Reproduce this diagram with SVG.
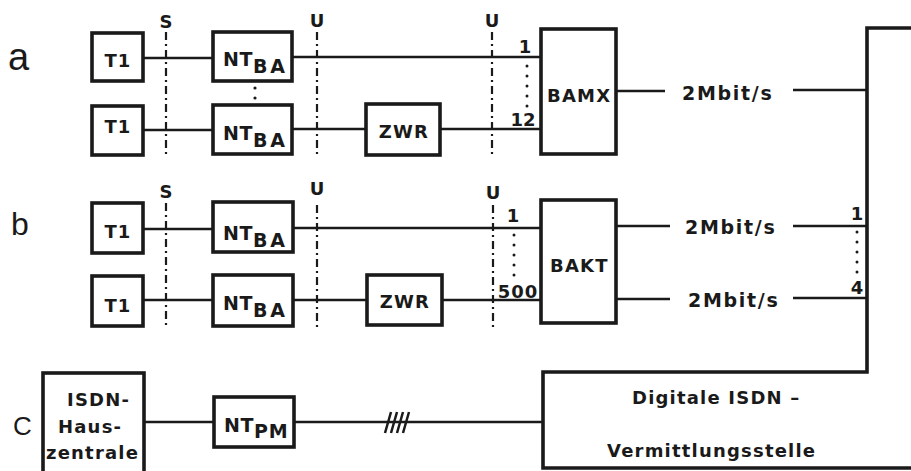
<svg xmlns="http://www.w3.org/2000/svg" width="911" height="471" viewBox="0 0 911 471">
<style>
.box{fill:#fff;stroke:#1a1a1a;stroke-width:3.6}
.ln{fill:none;stroke:#1a1a1a;stroke-width:2.5}
.dd{fill:none;stroke:#1a1a1a;stroke-width:2.2;stroke-dasharray:8 4 2 4}
.t{font-family:"DejaVu Sans",Verdana,sans-serif;font-weight:bold;font-size:18px;fill:#1a1a1a;letter-spacing:1.2px}
.r{font-family:"DejaVu Sans",Verdana,sans-serif;font-weight:bold;font-size:19px;fill:#1a1a1a;letter-spacing:1.7px}
.n{font-family:"DejaVu Sans",Verdana,sans-serif;font-weight:bold;font-size:18px;fill:#1a1a1a}
.nt{font-family:"DejaVu Sans",Verdana,sans-serif;font-weight:bold;font-size:19px;fill:#1a1a1a;letter-spacing:0.5px}
.big{font-family:"Liberation Sans",Arial,sans-serif;fill:#1a1a1a}
.dot{fill:#1a1a1a}
</style>
<rect width="911" height="471" fill="#fff"/>
<g id="rowlabels">
<text class="big" x="8" y="70" font-size="38">a</text>
<text class="big" x="11" y="235" font-size="32">b</text>
<text class="big" x="13" y="435" font-size="26">C</text>
</g>
<g id="interfaces">
<path class="dd" d="M166,32V158M317,32V158M492,32V158M166,203V328M317,205V328M493,205V328"/>
<text class="n" x="166" y="28" text-anchor="middle">S</text>
<text class="n" x="317" y="27" text-anchor="middle">U</text>
<text class="n" x="492" y="27" text-anchor="middle">U</text>
<text class="n" x="166" y="198" text-anchor="middle">S</text>
<text class="n" x="317" y="195" text-anchor="middle">U</text>
<text class="n" x="493" y="199" text-anchor="middle">U</text>
</g>
<g id="connectors">
<path class="ln" d="M143,58H213M292,57H541M143,130H213M292,129H366M440,129H541"/>
<path class="ln" d="M616,91H665M793,90H866"/>
<path class="ln" d="M143,229H213M292,228H541M143,300H213M292,300H367M442,300H541"/>
<path class="ln" d="M616,226H670M793,226H866M616,299H670M793,298H866"/>
<path class="ln" d="M144,422H214M294,422H543"/>
<path class="ln" d="M385,433L391,412M391,433L397,412M397,433L403,412M403,433L409,412"/>
</g>
<g id="dots">
<circle class="dot" cx="255" cy="88" r="1.6"/><circle class="dot" cx="255" cy="98" r="1.6"/>
<circle class="dot" cx="527" cy="66" r="1.5"/><circle class="dot" cx="527" cy="76" r="1.5"/><circle class="dot" cx="527" cy="86" r="1.5"/><circle class="dot" cx="527" cy="96" r="1.5"/><circle class="dot" cx="527" cy="106" r="1.5"/>
<circle class="dot" cx="514" cy="235" r="1.5"/><circle class="dot" cx="514" cy="245" r="1.5"/><circle class="dot" cx="514" cy="255" r="1.5"/><circle class="dot" cx="514" cy="265" r="1.5"/><circle class="dot" cx="514" cy="275" r="1.5"/>
<circle class="dot" cx="857" cy="232" r="1.5"/><circle class="dot" cx="857" cy="242" r="1.5"/><circle class="dot" cx="857" cy="252" r="1.5"/><circle class="dot" cx="857" cy="262" r="1.5"/><circle class="dot" cx="857" cy="272" r="1.5"/>
</g>
<g id="numbers">
<text class="n" x="525" y="53" text-anchor="middle">1</text>
<text class="n" x="523" y="126" text-anchor="middle">12</text>
<text class="n" x="513" y="222" text-anchor="middle">1</text>
<text class="n" x="518" y="298" text-anchor="middle" letter-spacing="1">500</text>
<text class="n" x="857" y="220" text-anchor="middle">1</text>
<text class="n" x="857" y="294" text-anchor="middle">4</text>
</g>
<g id="a-T1-1"><rect class="box" x="92" y="33" width="51" height="48"/><text class="t" x="118" y="67" text-anchor="middle" letter-spacing="3">T1</text></g>
<g id="a-T1-2"><rect class="box" x="92" y="106" width="51" height="49"/><text class="t" x="118" y="133" text-anchor="middle" letter-spacing="3">T1</text></g>
<g id="a-NT-1"><rect class="box" x="213" y="32" width="79" height="49"/><text class="nt" x="223" y="66">NT<tspan dy="7" letter-spacing="3">BA</tspan></text></g>
<g id="a-NT-2"><rect class="box" x="213" y="105" width="79" height="49"/><text class="nt" x="223" y="140">NT<tspan dy="7" letter-spacing="3">BA</tspan></text></g>
<g id="a-ZWR"><rect class="box" x="366" y="104" width="74" height="51"/><text class="t" x="404" y="138" text-anchor="middle">ZWR</text></g>
<g id="BAMX"><rect class="box" x="541" y="29" width="75" height="125"/><text class="t" x="547" y="102">BAMX</text></g>
<g id="a-rate"><text class="r" x="682" y="100">2Mbit/s</text></g>
<g id="b-T1-1"><rect class="box" x="92" y="203" width="51" height="50"/><text class="t" x="118" y="238" text-anchor="middle" letter-spacing="3">T1</text></g>
<g id="b-T1-2"><rect class="box" x="92" y="276" width="51" height="50"/><text class="t" x="118" y="312" text-anchor="middle" letter-spacing="3">T1</text></g>
<g id="b-NT-1"><rect class="box" x="213" y="202" width="80" height="50"/><text class="nt" x="223" y="240">NT<tspan dy="7" letter-spacing="3">BA</tspan></text></g>
<g id="b-NT-2"><rect class="box" x="213" y="275" width="80" height="51"/><text class="nt" x="223" y="310">NT<tspan dy="7" letter-spacing="3">BA</tspan></text></g>
<g id="b-ZWR"><rect class="box" x="367" y="275" width="75" height="50"/><text class="t" x="405" y="308" text-anchor="middle">ZWR</text></g>
<g id="BAKT"><rect class="box" x="541" y="200" width="75" height="123"/><text class="t" x="550" y="272">BAKT</text></g>
<g id="b-rate-1"><text class="r" x="685" y="234">2Mbit/s</text></g>
<g id="b-rate-2"><text class="r" x="688" y="307">2Mbit/s</text></g>
<g id="ISDN-Hauszentrale"><rect class="box" x="43" y="373" width="101" height="100"/>
<text class="t" x="67" y="406" letter-spacing="2">ISDN-</text><text class="t" x="58" y="433" letter-spacing="2">Haus-</text><text class="t" x="46" y="459" letter-spacing="0.8">zentrale</text></g>
<g id="NT-PM"><rect class="box" x="214" y="397" width="80" height="50"/><text class="nt" x="224" y="432">NT<tspan dy="6" letter-spacing="1">PM</tspan></text></g>
<g id="Vermittlungsstelle"><path class="box" d="M913,28H867V372H543V468H913"/>
<text class="t" x="632" y="404" letter-spacing="1.4">Digitale ISDN –</text>
<text class="t" x="607" y="457" letter-spacing="1.1">Vermittlungsstelle</text></g>
</svg>
